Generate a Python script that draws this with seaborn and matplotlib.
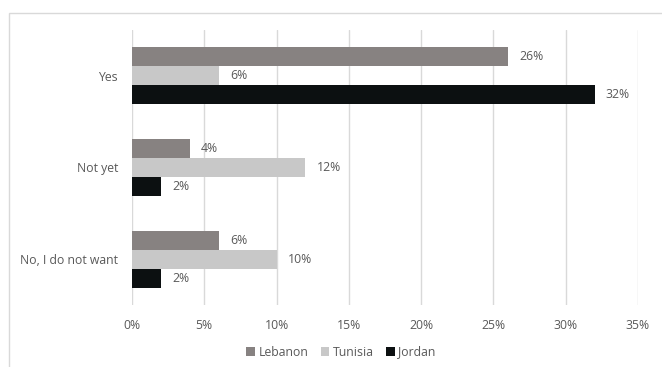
import matplotlib
matplotlib.use("Agg")
import matplotlib.pyplot as plt
from matplotlib.patches import Rectangle
import seaborn as sns
import pandas as pd

categories = ["Yes", "Not yet", "No, I do not want"]
countries = ["Lebanon", "Tunisia", "Jordan"]
lebanon = [26, 4, 6]
tunisia = [6, 12, 10]
jordan = [32, 2, 2]
ticks = [0, 5, 10, 15, 20, 25, 30, 35]
colors = ["#878281", "#c8c8c8", "#0c1011"]

rows = []
for country, vals in zip(countries, [lebanon, tunisia, jordan]):
    for cat, v in zip(categories, vals):
        rows.append({"answer": cat, "country": country, "pct": v})
df = pd.DataFrame(rows)

sns.set_theme(style="white")
plt.rcParams["font.family"] = ["Open Sans", "DejaVu Sans"]
text_color = "#595959"

fig = plt.figure(figsize=(6.62, 3.67), dpi=100)
ax = fig.add_axes([132 / 662, 1 - 305 / 367, (638 - 132) / 662, (305 - 30) / 367])

sns.barplot(data=df, y="answer", x="pct", hue="country", order=categories,
            hue_order=countries, palette=colors, orient="h", width=0.62,
            saturation=1, ax=ax, legend=False, edgecolor="none")

for container in ax.containers:
    ax.bar_label(container, labels=[f"{v:g}%" for v in container.datavalues],
                 padding=8, fontsize=8.8, color=text_color)

ax.set_xlim(0, 35)
ax.set_xticks(ticks)
ax.set_xticklabels([f"{t}%" for t in ticks], fontsize=8.8, color=text_color)
ax.tick_params(axis="y", labelsize=8.8, labelcolor=text_color, length=0, pad=10)
ax.tick_params(axis="x", length=0, pad=10)
ax.set_xlabel("")
ax.set_ylabel("")
ax.grid(axis="x", color="#d9d9d9", linewidth=1)
ax.set_axisbelow(True)
for s in ax.spines.values():
    s.set_visible(False)

# Legend with small square swatches below the axis
handles = [Rectangle((0, 0), 1, 1, facecolor=c, edgecolor="none") for c in colors]
fig.legend(handles, countries, loc="center", bbox_to_anchor=(341 / 662, 1 - 352 / 367),
           ncol=3, frameon=False, fontsize=8.8, handlelength=0.7, handleheight=0.7,
           handletextpad=0.3, columnspacing=1.0, labelcolor=text_color)

# Light outer frame of the chart area
fig.patches.append(Rectangle((9 / 662, -0.1), 1.2, 1 - 13 / 367 + 0.1,
                             transform=fig.transFigure, fill=False,
                             edgecolor="#d9d9d9", linewidth=1))

fig.savefig("out.png", dpi=100, facecolor="white")
